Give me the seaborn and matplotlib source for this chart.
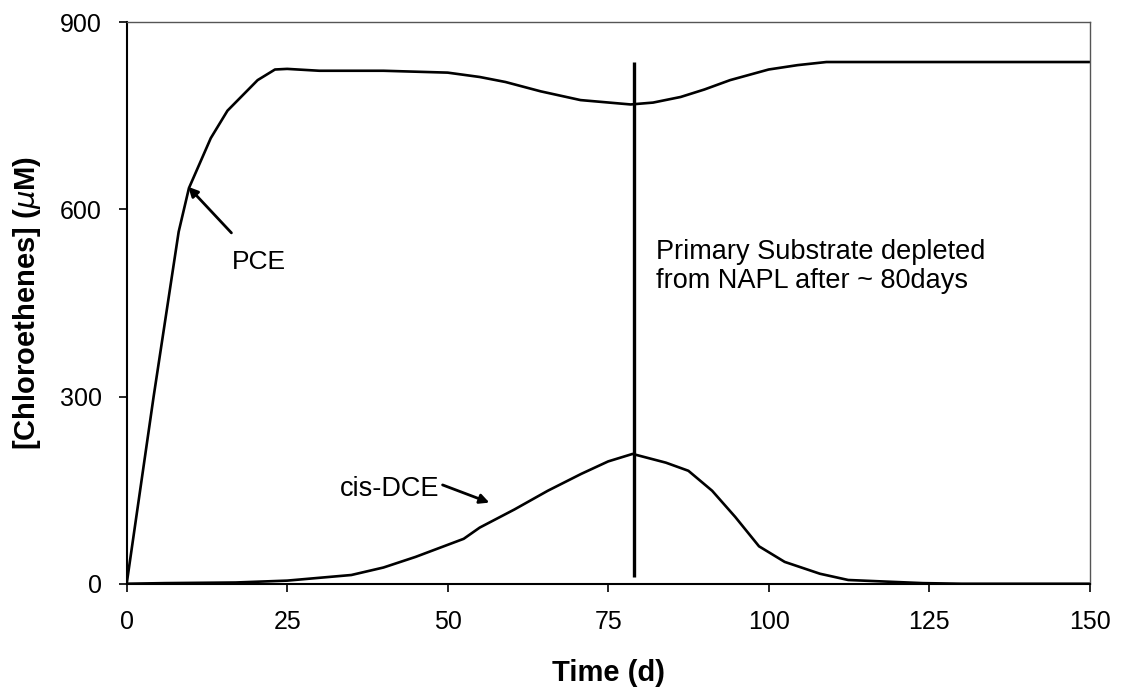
"""
Chloroethene concentrations over time (PCE and cis-DCE)
"""

import numpy as np
import pandas as pd
import matplotlib
matplotlib.use("Agg")
import matplotlib.pyplot as plt
import seaborn as sns

# ============================================================================
# DATA
# ============================================================================

pce_time = [0, 4.2, 8.1, 9.7, 13.1, 15.7, 20.4, 23.1, 25, 30, 40, 50, 55, 59,
            64.5, 70.7, 78.5, 82, 86.3, 90, 94, 100, 104.5, 109, 115, 150]
pce_conc = [0, 300, 564, 634, 714, 758, 807, 824, 825, 822, 822, 819, 812, 804,
            789, 775, 768, 771, 780, 792, 807, 824, 831, 836, 836, 836]

dce_time = [0, 6, 17, 25, 35, 40, 45, 52.5, 55, 60.4, 65.6, 70.8, 75, 78.8,
            84, 87.5, 91.2, 94.8, 98.5, 102.5, 108, 112.4, 117, 124, 130, 150]
dce_conc = [0, 1, 2, 5, 14, 26, 43, 72, 90, 119, 149, 176, 196, 208,
            194, 181, 149, 107, 60, 35, 16, 6, 4, 1, 0, 0]

depletion_day = 79
depletion_range = [10, 836]

x_ticks = [0, 25, 50, 75, 100, 125, 150]
y_ticks = [0, 300, 600, 900]

# ============================================================================
# PLOT
# ============================================================================

sns.set_theme(style="ticks")
plt.rcParams['font.family'] = ['Liberation Sans', 'DejaVu Sans']
plt.rcParams['text.color'] = 'black'
plt.rcParams['axes.labelcolor'] = 'black'

pce = pd.DataFrame({'time': pce_time, 'conc': pce_conc})
dce = pd.DataFrame({'time': dce_time, 'conc': dce_conc})

fig = plt.figure(figsize=(11.21, 6.90), dpi=100)
ax = fig.add_axes([0.113, 0.154, 0.859, 0.814])

sns.lineplot(data=pce, x='time', y='conc', ax=ax, color='black', lw=1.9)
sns.lineplot(data=dce, x='time', y='conc', ax=ax, color='black', lw=1.9)

ax.vlines(depletion_day, depletion_range[0], depletion_range[1],
          color='black', lw=2.4)

ax.set_xlim(0, 150)
ax.set_ylim(0, 900)
ax.set_xticks(x_ticks)
ax.set_yticks(y_ticks)
ax.tick_params(labelsize=18, direction='out', length=6, width=1.2,
               colors='black')
ax.tick_params(axis='x', pad=13)
ax.tick_params(axis='y', pad=12)

for side in ['left', 'bottom']:
    ax.spines[side].set_color('black')
    ax.spines[side].set_linewidth(1.5)
for side in ['top', 'right']:
    ax.spines[side].set_visible(True)
    ax.spines[side].set_color('#555555')
    ax.spines[side].set_linewidth(1.0)

ax.set_xlabel('Time (d)', fontsize=21, fontweight='bold', labelpad=18)
ax.set_ylabel(r'[Chloroethenes] ($\mu$M)', fontsize=21, fontweight='bold',
              labelpad=12)

# annotations
ax.annotate('PCE', xy=(9.6, 636), xytext=(16.4, 515), fontsize=19,
            va='center', ha='left',
            arrowprops=dict(arrowstyle='-|>', color='black', lw=2,
                            shrinkA=14, shrinkB=0, mutation_scale=14))
ax.annotate('cis-DCE', xy=(56.5, 130), xytext=(33.2, 152), fontsize=19.5,
            va='center', ha='left',
            arrowprops=dict(arrowstyle='-|>', color='black', lw=2,
                            shrinkA=0, shrinkB=0, mutation_scale=14,
                            relpos=(1.0, 0.7)))
ax.text(82.4, 552, 'Primary Substrate depleted\nfrom NAPL after ~ 80days',
        fontsize=19.5, va='top', ha='left', linespacing=1.15)

plt.savefig('out.png', dpi=100)
